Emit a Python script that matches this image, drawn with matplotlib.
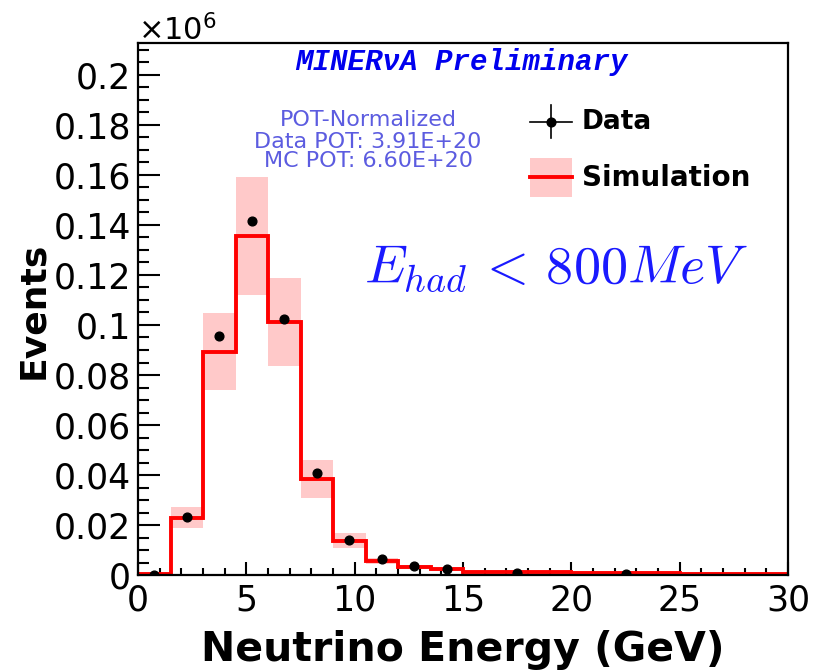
import numpy as np
import matplotlib
matplotlib.use("Agg")
import matplotlib.pyplot as plt
from matplotlib.patches import Rectangle
from matplotlib.lines import Line2D
from matplotlib.ticker import MultipleLocator, FuncFormatter

# Neutrino energy binning (GeV)
bin_edges = [0, 1.5, 3, 4.5, 6, 7.5, 9, 10.5, 12, 13.5, 15, 20, 25, 30]

# Simulation (POT-normalized) and its systematic uncertainty, events
mc_events = [500, 23000, 89200, 135600, 101000, 38400, 13700, 5700, 3300, 2300, 1300, 700, 300]
mc_error = [200, 4100, 15400, 23500, 17600, 7700, 3000, 1200, 800, 500, 300, 200, 100]

# Data, events (no entries drawn in the last bin)
data_events = [200, 23200, 95700, 141700, 102500, 40800, 14100, 6300, 3700, 2400, 900, 300, np.nan]
data_error = [100, 400, 800, 900, 800, 500, 300, 200, 150, 120, 80, 50, np.nan]

scale = 1e6
edges = np.array(bin_edges)
centers = 0.5 * (edges[:-1] + edges[1:])
mc = np.array(mc_events) / scale
mc_err = np.array(mc_error) / scale
data = np.array(data_events) / scale
data_err = np.array(data_error) / scale

plt.rcParams["font.family"] = ["DejaVu Sans"]
plt.rcParams["mathtext.fontset"] = "dejavusans"

fig = plt.figure(figsize=(8.13, 6.72), dpi=100)
ax = fig.add_axes([138 / 813, 1 - 575 / 672, 650 / 813, 532 / 672])

band_color = "#ffc9c9"
# uncertainty band
for lo, hi, v, e in zip(edges[:-1], edges[1:], mc, mc_err):
    ax.add_patch(Rectangle((lo, v - e), hi - lo, 2 * e, facecolor=band_color,
                           edgecolor="none", zorder=1))

# simulation histogram
ax.stairs(mc, edges, color="red", linewidth=2.8, zorder=2, baseline=None)
ax.plot([edges[0], edges[0]], [0, mc[0]], color="red", linewidth=2.8, zorder=2)

# data points
ax.errorbar(centers, data, yerr=data_err, fmt="o", color="black", markersize=6.3,
            elinewidth=1.2, capsize=0, zorder=3)

ax.set_xlim(0, 30)
ax.set_ylim(0, 0.2128)

for s in ["left", "bottom", "right", "top"]:
    ax.spines[s].set_linewidth(1.6)

ax.xaxis.set_major_locator(MultipleLocator(5))
ax.xaxis.set_minor_locator(MultipleLocator(1))
ax.yaxis.set_major_locator(MultipleLocator(0.02))
ax.yaxis.set_minor_locator(MultipleLocator(0.005))
ax.yaxis.set_major_formatter(FuncFormatter(lambda v, p: "%g" % round(v, 4)))
ax.xaxis.set_major_formatter(FuncFormatter(lambda v, p: "%g" % v))

ax.tick_params(axis="both", which="both", direction="in", top=False, right=False,
               width=1.5, labelsize=25)
ax.tick_params(axis="y", which="major", length=16, pad=5)
ax.tick_params(axis="y", which="minor", length=8)
ax.tick_params(axis="x", which="major", length=9.5, pad=6)
ax.tick_params(axis="x", which="minor", length=5)

fig.text(463 / 813, 1 - 650 / 672, "Neutrino Energy (GeV)", fontsize=29.5,
         fontweight="bold", ha="center", va="center")
fig.text(33 / 813, 1 - 310 / 672, "Events", fontsize=26, fontweight="bold",
         rotation=90, ha="center", va="center")
fig.text(138 / 813, 1 - 40 / 672, r"$\times10^{6}$", fontsize=22,
         ha="left", va="baseline")

# header and annotations
ax.text(0.498, 0.964, "MINERνA Preliminary", transform=ax.transAxes,
        fontsize=21, color="#0000ee", fontweight="bold", style="italic",
        family=["Liberation Mono", "DejaVu Sans Mono"], ha="center", va="center")
pot_color = "#5c5ce0"
for yy, line in zip([0.855, 0.814, 0.778],
                    ["POT-Normalized", "Data POT: 3.91E+20", "MC POT: 6.60E+20"]):
    ax.text(0.354, yy, line, transform=ax.transAxes, fontsize=16,
            color=pot_color, ha="center", va="center")

ax.text(0.643, 0.577, r"$E_{had} \,<\, 800MeV$", transform=ax.transAxes,
        fontsize=39, color="#1a1aff", ha="center", va="center",
        math_fontfamily="cm")

# legend
lx0, lx1 = 0.603, 0.668
lxc = 0.5 * (lx0 + lx1)
ax.add_line(Line2D([lx0, lx1], [0.851, 0.851], color="black", lw=1.2,
                   transform=ax.transAxes, zorder=5))
ax.add_line(Line2D([lxc, lxc], [0.821, 0.883], color="black", lw=1.2,
                   transform=ax.transAxes, zorder=5))
ax.add_line(Line2D([lxc], [0.851], marker="o", markersize=6.3, color="black",
                   transform=ax.transAxes, zorder=6))
ax.add_patch(Rectangle((lx0, 0.711), lx1 - lx0, 0.073, facecolor=band_color,
                       edgecolor="none", transform=ax.transAxes, zorder=5))
ax.add_line(Line2D([lx0, lx1], [0.748, 0.748], color="red", lw=2.8,
                   transform=ax.transAxes, zorder=6))
ax.text(0.683, 0.851, "Data", transform=ax.transAxes, fontsize=19,
        fontweight="bold", ha="left", va="center")
ax.text(0.683, 0.746, "Simulation", transform=ax.transAxes, fontsize=20,
        fontweight="bold", ha="left", va="center")

fig.savefig("out.png", dpi=100)
